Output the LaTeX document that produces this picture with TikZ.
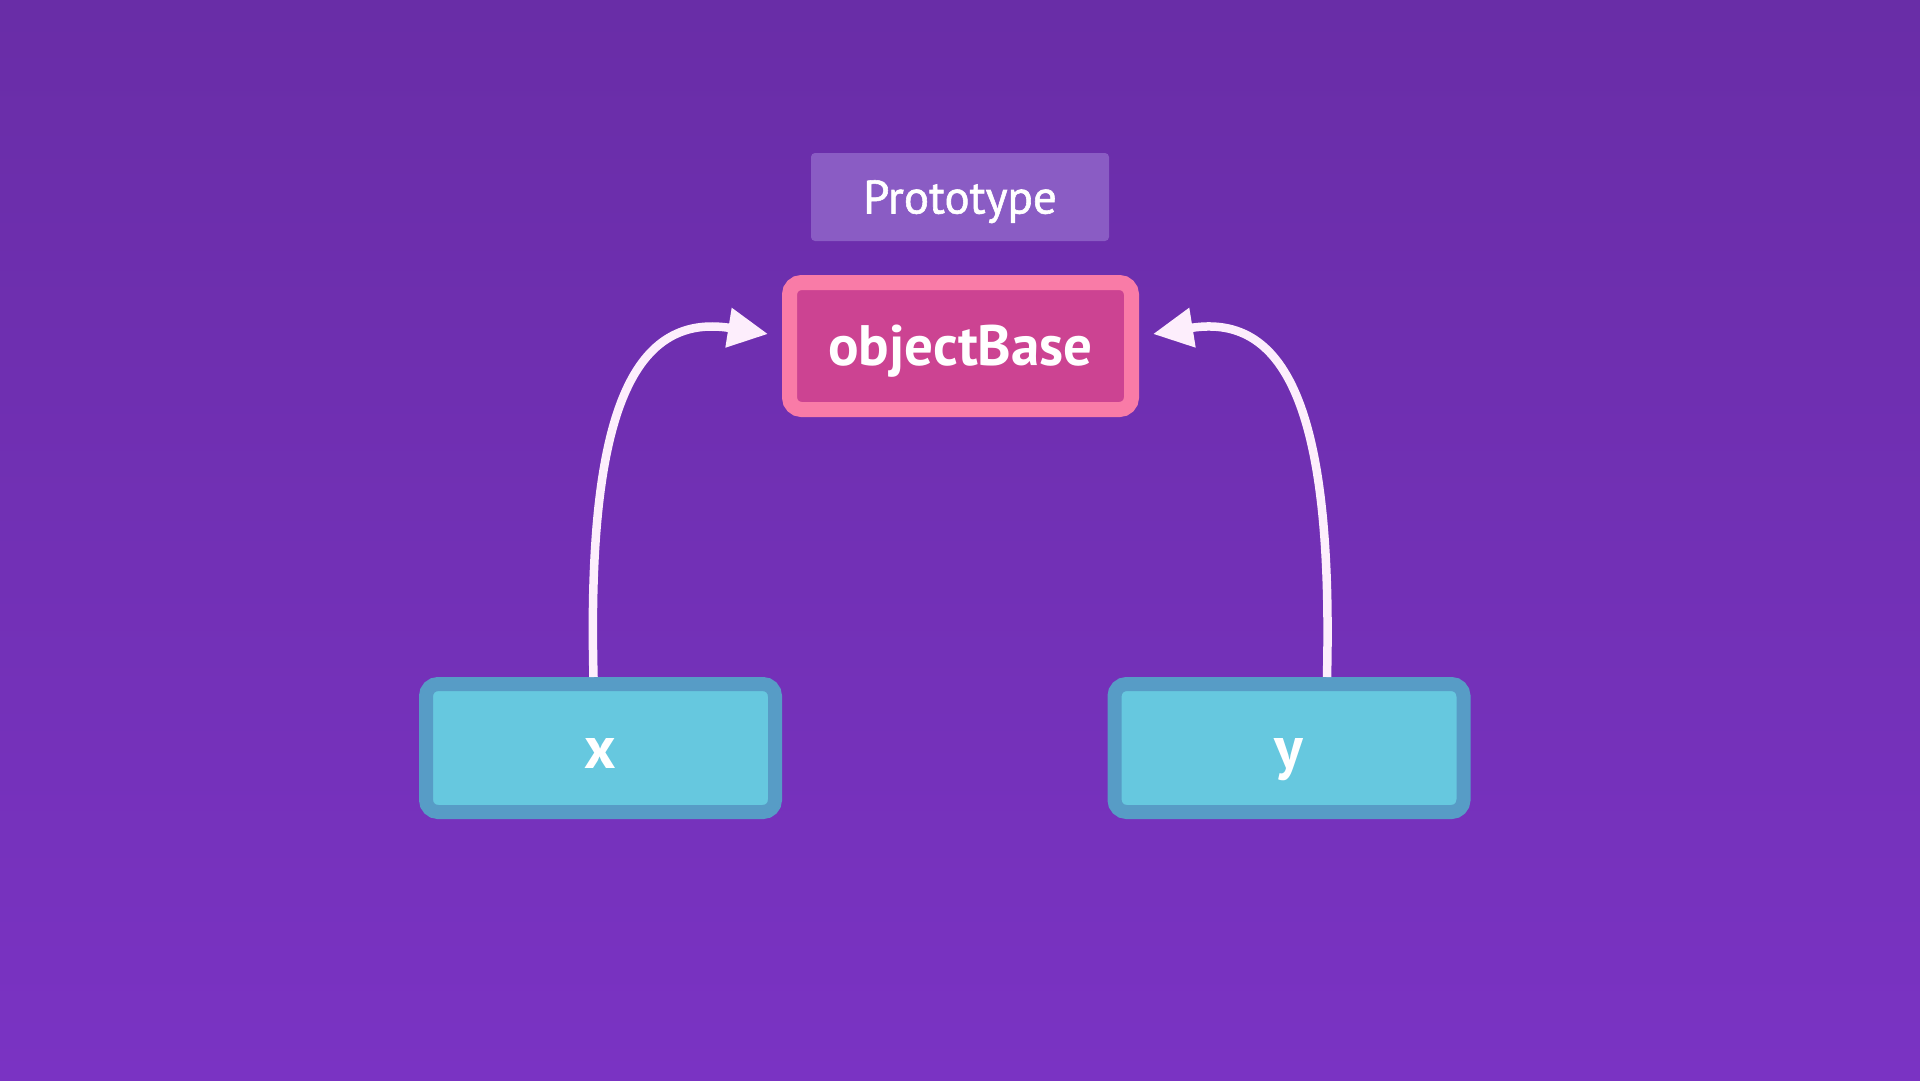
\documentclass[tikz,border=0pt]{standalone}
\usepackage{fontspec}
\setmainfont{PT Sans}
\newfontfamily\protofont[FakeBold=1.2]{PT Sans}
\usetikzlibrary{arrows.meta}
\definecolor{bgtop}{HTML}{692DA7}
\definecolor{bgbot}{HTML}{7A33C3}
\definecolor{protofill}{HTML}{8A5CC4}
\definecolor{pinkborder}{HTML}{F97BA7}
\definecolor{pinkfill}{HTML}{CC4392}
\definecolor{cyanborder}{HTML}{579CC6}
\definecolor{cyanfill}{HTML}{66C8DF}
\definecolor{arrowcol}{HTML}{FDEEFC}
\tikzset{
  protobox/.style={fill=protofill, rounded corners=4pt, minimum width=298pt, minimum height=88pt,
    inner sep=0pt, outer sep=0pt, text=white, font=\protofont\fontsize{47}{50}\selectfont,
    text height=33pt, text depth=0pt},
  basebox/.style={draw=pinkborder, line width=15pt, fill=pinkfill, rounded corners=12pt,
    minimum width=342pt, minimum height=127pt, inner sep=0pt, outer sep=0pt,
    text=white, font=\bfseries\fontsize{57}{60}\selectfont,
    text height=39pt, text depth=0pt},
  varbox/.style={draw=cyanborder, line width=14pt, fill=cyanfill, rounded corners=12pt,
    minimum width=349pt, minimum height=128pt, inner sep=0pt, outer sep=0pt,
    text=white, font=\bfseries\fontsize{60}{64}\selectfont,
    text height=40pt, text depth=0pt},
  conn/.style={draw=arrowcol, line width=8.5pt, -{Triangle[length=40pt,width=38pt]}}
}
\begin{document}
\begin{tikzpicture}[x=1pt,y=-1pt]
\useasboundingbox (0,0) rectangle (1920,1080);
\shade[top color=bgtop, bottom color=bgbot] (0,0) rectangle (1920,1080);
\node[protobox] (proto) at (960,197) {Prototype};
\node[basebox] (ob) at (960.5,346) {objectBase};
\node[varbox] (x) at (600.5,748) {x};
\node[varbox] (y) at (1289,748) {y};
\draw[conn] ([xshift=-7pt,yshift=7pt]x.north) .. controls (587,420) and (630,312) .. ([xshift=-21.5pt,yshift=12pt]ob.west);
\draw[conn] ([xshift=38pt,yshift=7pt]y.north) .. controls (1333,420) and (1290,312) .. ([xshift=21.5pt,yshift=12pt]ob.east);
\end{tikzpicture}
\end{document}
